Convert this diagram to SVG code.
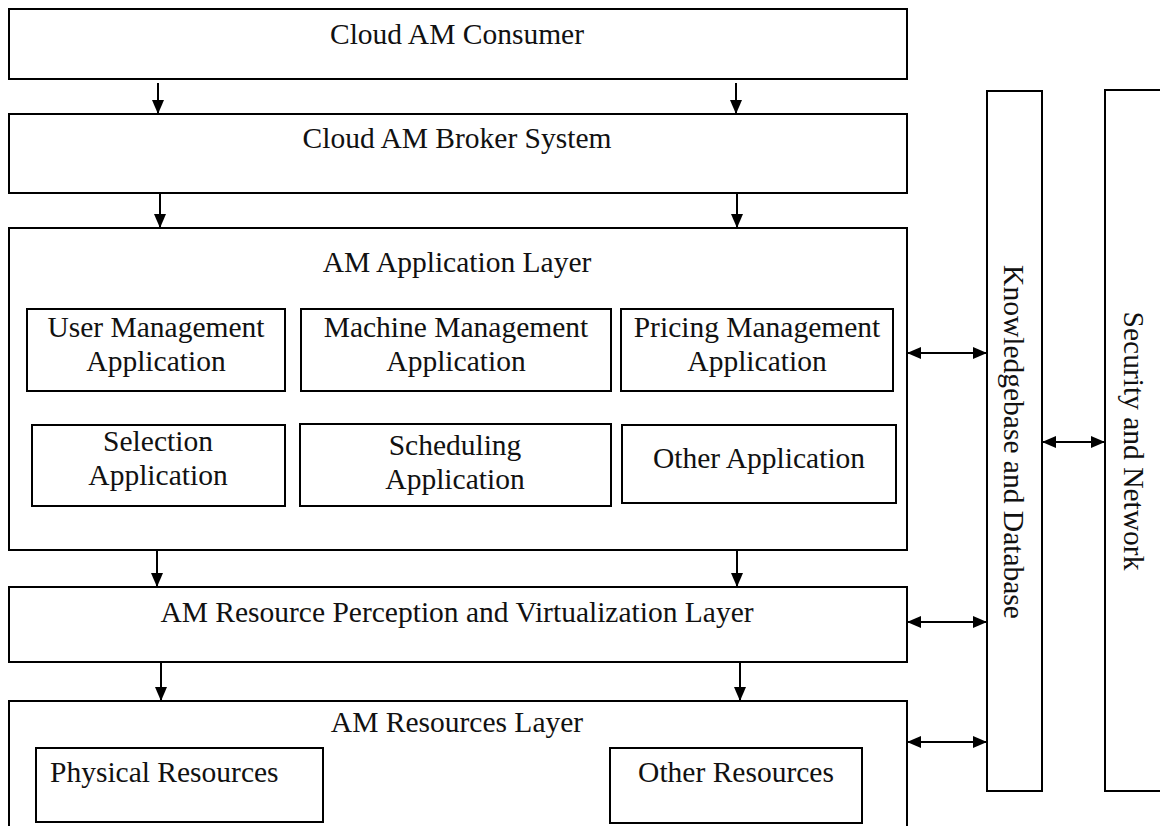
<svg xmlns="http://www.w3.org/2000/svg" width="1160" height="826" viewBox="0 0 1160 826">
<style>
.box{fill:#fff;stroke:#000;stroke-width:2}
.t{font-family:"Liberation Serif","Times New Roman",serif;font-size:29.5px;fill:#111;text-anchor:middle}
.c{stroke:#000;stroke-width:2;fill:none}
</style>
<defs>
<marker id="ah" markerUnits="userSpaceOnUse" markerWidth="14" markerHeight="12" viewBox="0 0 14 12" refX="14" refY="6" orient="auto-start-reverse">
<path d="M0,0 L14,6 L0,12 Z" fill="#000"/>
</marker>
</defs>
<rect width="1160" height="826" fill="#fff"/>
<g id="consumer"><rect class="box" x="9" y="9" width="898" height="70"/><text class="t" x="457" y="44">Cloud AM Consumer</text></g>
<g id="broker"><rect class="box" x="9" y="114" width="898" height="79"/><text class="t" x="457" y="148">Cloud AM Broker System</text></g>
<g id="app-layer"><rect class="box" x="9" y="228" width="898" height="322"/><text class="t" x="457" y="272">AM Application Layer</text></g>
<g id="user-mgmt"><rect class="box" x="27" y="309" width="258" height="82"/><text class="t" x="156" y="337">User Management</text><text class="t" x="156" y="371">Application</text></g>
<g id="machine-mgmt"><rect class="box" x="301" y="309" width="310" height="82"/><text class="t" x="456" y="337">Machine Management</text><text class="t" x="456" y="371">Application</text></g>
<g id="pricing-mgmt"><rect class="box" x="621" y="309" width="272" height="82"/><text class="t" x="757" y="337">Pricing Management</text><text class="t" x="757" y="371">Application</text></g>
<g id="selection"><rect class="box" x="32" y="425" width="253" height="81"/><text class="t" x="158" y="451">Selection</text><text class="t" x="158" y="485">Application</text></g>
<g id="scheduling"><rect class="box" x="300" y="424" width="311" height="82"/><text class="t" x="455" y="455">Scheduling</text><text class="t" x="455" y="489">Application</text></g>
<g id="other-app"><rect class="box" x="622" y="425" width="274" height="78"/><text class="t" x="759" y="468">Other Application</text></g>
<g id="perception"><rect class="box" x="9" y="587" width="898" height="75"/><text class="t" x="457" y="622">AM Resource Perception and Virtualization Layer</text></g>
<g id="resources-layer"><rect class="box" x="9" y="701" width="898" height="160"/><text class="t" x="457" y="732">AM Resources Layer</text></g>
<g id="physical"><rect class="box" x="36" y="748" width="287" height="74"/><text class="t" x="50" y="782" style="text-anchor:start">Physical Resources</text></g>
<g id="other-res"><rect class="box" x="610" y="748" width="252" height="75"/><text class="t" x="736" y="782">Other Resources</text></g>
<g id="knowledgebase"><rect class="box" x="987" y="91" width="55" height="700"/><text class="t" transform="translate(1004,442) rotate(90)">Knowledgebase and Database</text></g>
<g id="security"><rect class="box" x="1105" y="90" width="70" height="701"/><text class="t" transform="translate(1124,441) rotate(90)">Security and Network</text></g>
<g id="connectors">
<line class="c" x1="158" y1="83" x2="158" y2="114" marker-end="url(#ah)"/>
<line class="c" x1="736" y1="83" x2="736" y2="114" marker-end="url(#ah)"/>
<line class="c" x1="160" y1="193" x2="160" y2="228" marker-end="url(#ah)"/>
<line class="c" x1="737" y1="193" x2="737" y2="228" marker-end="url(#ah)"/>
<line class="c" x1="157" y1="550" x2="157" y2="587" marker-end="url(#ah)"/>
<line class="c" x1="737" y1="550" x2="737" y2="587" marker-end="url(#ah)"/>
<line class="c" x1="161" y1="662" x2="161" y2="701" marker-end="url(#ah)"/>
<line class="c" x1="740" y1="662" x2="740" y2="701" marker-end="url(#ah)"/>
<line class="c" x1="907" y1="353" x2="987" y2="353" marker-start="url(#ah)" marker-end="url(#ah)"/>
<line class="c" x1="1042" y1="442" x2="1105" y2="442" marker-start="url(#ah)" marker-end="url(#ah)"/>
<line class="c" x1="907" y1="622" x2="987" y2="622" marker-start="url(#ah)" marker-end="url(#ah)"/>
<line class="c" x1="907" y1="742" x2="987" y2="742" marker-start="url(#ah)" marker-end="url(#ah)"/>
</g>
</svg>
